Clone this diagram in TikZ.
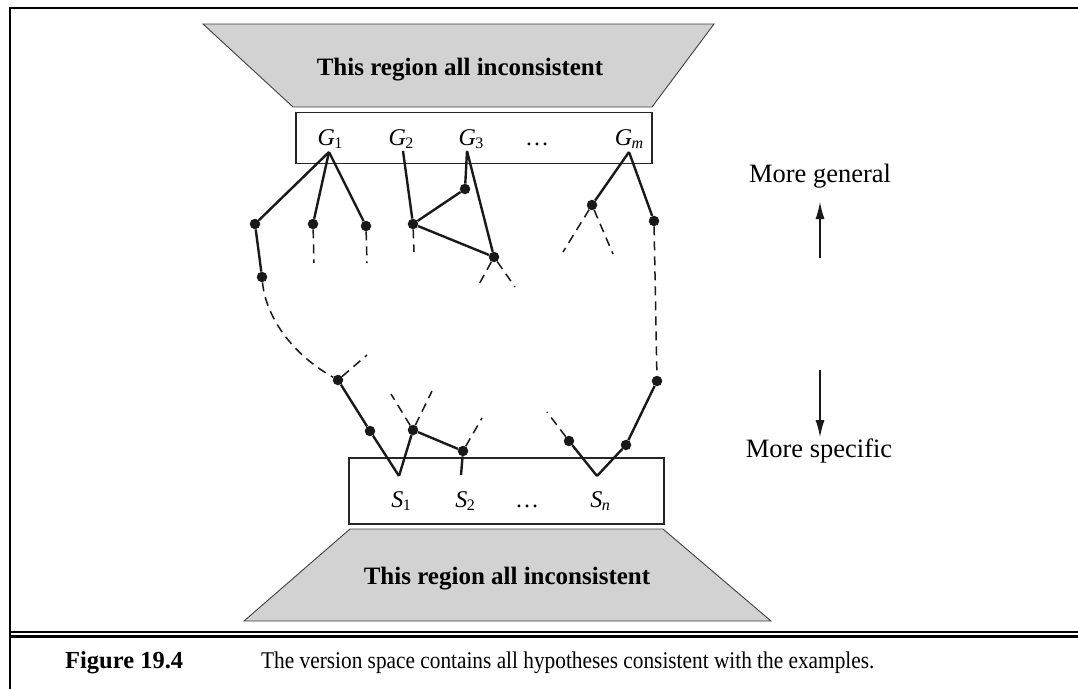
\documentclass[tikz,border=0pt]{standalone}
\usepackage{fontspec}
\setmainfont{Liberation Serif}
\usepackage{tikz}
\usetikzlibrary{arrows.meta}

\newcommand{\hypo}[2]{\textit{#1}\kern-0.5pt\raisebox{-0.35ex}{\fontsize{16}{16}\selectfont #2}}

\begin{document}
\begin{tikzpicture}[
    x=1pt, y=-1pt,
    dot/.style={circle, fill=black!90, inner sep=0pt, minimum size=10.5pt},
    edge/.style={line width=2.4pt, draw=black!90},
    dashedge/.style={line width=1.5pt, draw=black!90, dash pattern=on 9pt off 6pt},
    region/.style={fill=gray!35, draw=black!75, line width=0.9pt},
    setbox/.style={rectangle, draw=black!85, line width=1.2pt, inner sep=0pt},
    hyplabel/.style={anchor=base, font=\fontsize{24}{26}\selectfont},
    note/.style={anchor=base, font=\fontsize{26.5}{29}\selectfont},
    pointer/.style={-{Latex[length=17pt,width=9pt]}, line width=1.1pt, black!90},
    frame/.style={line width=2.6pt, black}
  ]
  \useasboundingbox (0,0) rectangle (1078,689);

  % Frame and rule above the caption
  \draw[frame] (10,689) -- (10,8) -- (1078,8);
  \draw[frame] (10,632) -- (1078,632);
  \draw[frame] (10,636.5) -- (1078,636.5);

  % Inconsistent regions
  \draw[region] (203,24) -- (714,24) -- (652,107) -- (293,107) -- cycle;
  \node[note, font=\fontsize{25}{28}\selectfont\bfseries] (topreg) at (460,75) {This region all inconsistent};
  \draw[region] (350,529) -- (663,529) -- (771,621) -- (244,621) -- cycle;
  \node[note, font=\fontsize{25}{28}\selectfont\bfseries] (botreg) at (507,584) {This region all inconsistent};

  % G-set
  \node[setbox, minimum width=356pt, minimum height=51pt] (gset) at (474,138) {};
  \node[hyplabel] (G1) at (330,145) {\hypo{G}{1}};
  \node[hyplabel] (G2) at (401,145) {\hypo{G}{2}};
  \node[hyplabel] (G3) at (471,145) {\hypo{G}{3}};
  \node[hyplabel] (gdots) at (537,145) {\dots};
  \node[hyplabel] (Gm) at (629,145) {\hypo{G}{\textit{m}}};

  % S-set
  \node[setbox, minimum width=315pt, minimum height=66pt] (sset) at (506.5,491) {};
  \node[hyplabel] (S1) at (401,507) {\hypo{S}{1}};
  \node[hyplabel] (S2) at (465,507) {\hypo{S}{2}};
  \node[hyplabel] (sdots) at (527,507) {\dots};
  \node[hyplabel] (Sn) at (600,507) {\hypo{S}{\textit{n}}};

  % Hypotheses
  \coordinate (g1top) at (329,152);
  \coordinate (g2top) at (403,151);
  \coordinate (g3top) at (467,151);
  \coordinate (gmtop) at (629,152);
  \coordinate (s1top) at (399,476);
  \coordinate (s2top) at (461,475);
  \coordinate (sntop) at (597,476);

  \node[dot] (a) at (255,224) {};
  \node[dot] (b) at (313,224) {};
  \node[dot] (c) at (366,226) {};
  \node[dot] (d) at (262,277) {};
  \node[dot] (f) at (413,224) {};
  \node[dot] (g) at (465,189) {};
  \node[dot] (h) at (494,257) {};
  \node[dot] (i) at (592,205) {};
  \node[dot] (j) at (654,221) {};
  \node[dot] (e) at (338,380) {};
  \node[dot] (n) at (370,431) {};
  \node[dot] (o) at (413,430) {};
  \node[dot] (p) at (463,451) {};
  \node[dot] (k) at (657,381) {};
  \node[dot] (l) at (626,445) {};
  \node[dot] (m) at (569,441) {};

  % Loose ends
  \coordinate (bend) at (314,263);
  \coordinate (cend) at (367,263);
  \coordinate (fend) at (414,252);
  \coordinate (hend1) at (477,288);
  \coordinate (hend2) at (515,287);
  \coordinate (iend1) at (563,252);
  \coordinate (iend2) at (613,254);
  \coordinate (eend) at (367,355);
  \coordinate (oend1) at (391,394);
  \coordinate (oend2) at (432,391);
  \coordinate (pend) at (482,418);
  \coordinate (mend) at (547,412);

  % Solid links
  \draw[edge] (g1top) -- (a);
  \draw[edge] (g1top) -- (b);
  \draw[edge] (g1top) -- (c);
  \draw[edge] (a) -- (d);
  \draw[edge] (g2top) -- (f);
  \draw[edge] (g3top) -- (g);
  \draw[edge] (g3top) -- (h);
  \draw[edge] (g) -- (f);
  \draw[edge] (f) -- (h);
  \draw[edge] (gmtop) -- (i);
  \draw[edge] (gmtop) -- (j);
  \draw[edge] (e) -- (n);
  \draw[edge] (n) -- (s1top);
  \draw[edge] (s1top) -- (o);
  \draw[edge] (o) -- (p);
  \draw[edge] (p) -- (s2top);
  \draw[edge] (m) -- (sntop);
  \draw[edge] (sntop) -- (l);
  \draw[edge] (l) -- (k);

  % Dashed links
  \draw[dashedge] (b) -- (bend);
  \draw[dashedge] (c) -- (cend);
  \draw[dashedge] (f) -- (fend);
  \draw[dashedge] (h) -- (hend1);
  \draw[dashedge] (h) -- (hend2);
  \draw[dashedge] (i) -- (iend1);
  \draw[dashedge] (i) -- (iend2);
  \draw[dashedge] (d) .. controls (265,310) and (285,350) .. (e);
  \draw[dashedge] (j) -- (k);
  \draw[dashedge] (e) -- (eend);
  \draw[dashedge] (o) -- (oend1);
  \draw[dashedge] (o) -- (oend2);
  \draw[dashedge] (p) -- (pend);
  \draw[dashedge] (m) -- (mend);

  % Direction
  \node[note] (gen) at (820,182) {More general};
  \node[note] (spec) at (819,457) {More specific};
  \coordinate (upfoot) at (820,258);
  \coordinate (uptip) at (820,202);
  \coordinate (downfoot) at (820,370);
  \coordinate (downtip) at (820,437);
  \draw[pointer] (upfoot) -- (uptip);
  \draw[pointer] (downfoot) -- (downtip);

  % Caption
  \node[anchor=base west, inner sep=0pt, font=\fontsize{24.5}{26}\selectfont\bfseries] (fignum) at (65,668) {Figure 19.4};
  \node[anchor=base west, inner sep=0pt, font=\fontsize{24}{26}\selectfont] (caption) at (261,668) {\scalebox{0.888}[1]{The version space contains all hypotheses consistent with the examples.}};
\end{tikzpicture}
\end{document}
